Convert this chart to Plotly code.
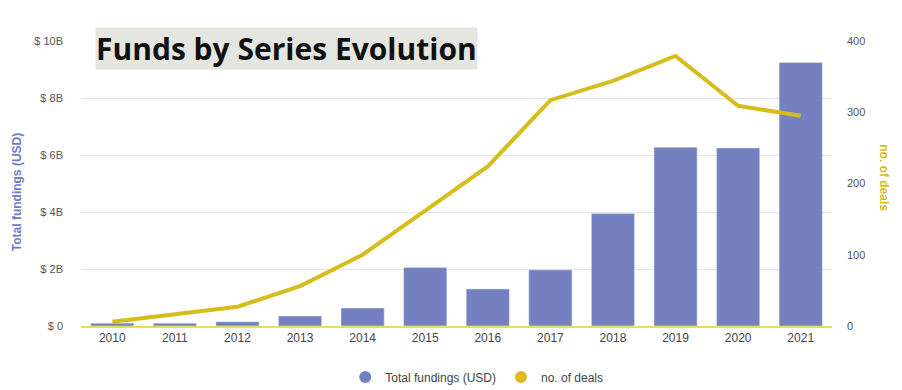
import plotly.graph_objects as go

years = ["2010", "2011", "2012", "2013", "2014", "2015", "2016", "2017", "2018", "2019", "2020", "2021"]
fundings_usd = [0.1e9, 0.1e9, 0.15e9, 0.35e9, 0.63e9, 2.05e9, 1.3e9, 1.97e9, 3.95e9, 6.27e9, 6.25e9, 9.25e9]
deals = [6, 16, 27, 56, 100, 162, 224, 317, 344, 379, 309, 295]
left_ticks = [0, 2e9, 4e9, 6e9, 8e9, 10e9]
left_labels = ["$ 0", "$ 2B", "$ 4B", "$ 6B", "$ 8B", "$ 10B"]
right_ticks = [0, 100, 200, 300, 400]

BAR = "#7480c0"
LINE = "#d6bd1c"
TICK = "#555555"

fig = go.Figure()
fig.add_trace(go.Bar(x=years, y=fundings_usd, marker_color=BAR, width=0.69,
                     showlegend=False, yaxis="y"))
fig.add_trace(go.Scatter(x=years, y=deals, mode="lines", line=dict(color=LINE, width=4),
                         showlegend=False, yaxis="y2"))
# legend entries with circle markers
fig.add_trace(go.Scatter(x=[None], y=[None], mode="markers", name="Total fundings (USD)",
                         marker=dict(color=BAR, size=12, symbol="circle")))
fig.add_trace(go.Scatter(x=[None], y=[None], mode="markers", name="no. of deals",
                         marker=dict(color="#e0b820", size=12, symbol="circle")))

fig.update_layout(
    width=902, height=390,
    margin=dict(l=81, r=70, t=41, b=64, autoexpand=False),
    paper_bgcolor="white", plot_bgcolor="white",
    font=dict(family="Liberation Sans, Arial, sans-serif", size=11, color=TICK),
    bargap=0.31,
    xaxis=dict(showgrid=False, showline=True, linecolor="#e8dc5a", linewidth=2,
               tickfont=dict(size=12, color="#444444"), ticks="outside", ticklen=0,
               automargin=False),
    yaxis=dict(range=[0, 10e9], tickvals=left_ticks, ticktext=left_labels,
               showgrid=True, gridcolor="#e4e4e4", gridwidth=1, zeroline=False,
               tickfont=dict(size=11, color=TICK), ticklabelstandoff=17, automargin=False),
    yaxis2=dict(range=[0, 400], tickvals=right_ticks, overlaying="y", side="right",
                showgrid=False, zeroline=False, tickfont=dict(size=11, color=TICK),
                ticklabelstandoff=14, automargin=False),
    legend=dict(orientation="h", x=0.527, xanchor="center", y=-0.179,
                yanchor="middle", font=dict(size=12, color="#444444"), itemwidth=30),
    annotations=[
        dict(text="<b>Funds by Series Evolution</b>", xref="paper", yref="paper",
             x=0.018, y=1.049, xanchor="left", yanchor="top", showarrow=False,
             font=dict(family="Open Sans, sans-serif", size=30, color="#111111"),
             bgcolor="#e6e6e1", borderpad=0),
        dict(text="<b>Total fundings (USD)</b>", xref="paper", yref="paper",
             x=-0.085, y=0.47, xanchor="center", yanchor="middle", showarrow=False,
             textangle=-90, font=dict(size=12, color="#6f7cc2")),
        dict(text="<b>no. of deals</b>", xref="paper", yref="paper",
             x=1.07, y=0.52, xanchor="center", yanchor="middle", showarrow=False,
             textangle=90, font=dict(size=12, color="#d6bd1c")),
    ],
)

fig.write_html("out.html", config={"displayModeBar": False},
               post_script="document.body.style.margin='0';")
